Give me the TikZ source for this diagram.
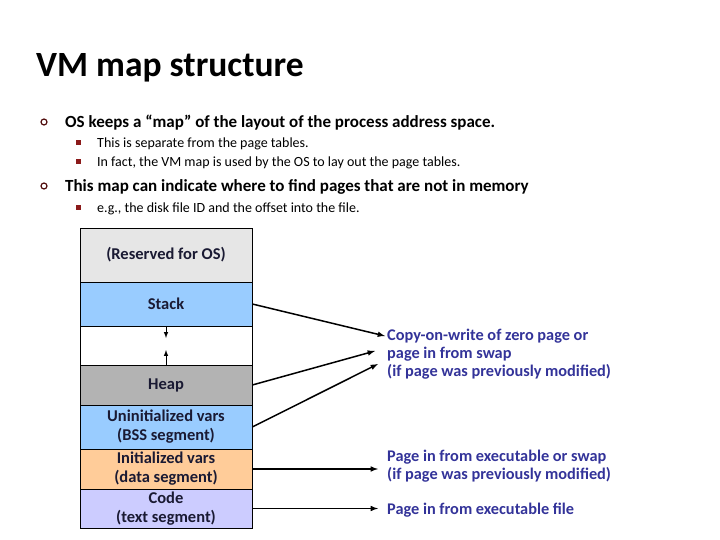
\documentclass[tikz,border=0pt]{standalone}
\usepackage{fontspec}
\setmainfont{Carlito}
\definecolor{osgray}{HTML}{E6E6E6}
\definecolor{segblue}{HTML}{99CCFF}
\definecolor{heapgray}{HTML}{B3B3B3}
\definecolor{datapeach}{HTML}{FFCC99}
\definecolor{codelilac}{HTML}{CCCCFF}
\definecolor{segtext}{HTML}{1A1A33}
\definecolor{labelblue}{HTML}{333399}
\definecolor{bulletred}{HTML}{8B1A1A}
\begin{document}
\begin{tikzpicture}[x=1pt, y=-1pt, >=latex]
    \tikzstyle{seg_style} = [draw=black, line width=0.6, minimum width=172, inner sep=0, align=center, text=segtext, font=\fontsize{16.5}{19}\selectfont\bfseries]
    \tikzstyle{label_style} = [anchor=west, align=left, inner sep=0, text=labelblue, font=\fontsize{16.3}{18}\selectfont\bfseries]
    \tikzstyle{ring_style} = [draw=bulletred!60!black, line width=1.2, circle, inner sep=0, minimum size=6]
    \tikzstyle{square_style} = [fill=bulletred, inner sep=0, minimum size=5]
    \tikzstyle{black_arrow} = [->, black, line width=1.5]
    \tikzstyle{small_arrow} = [->, black, line width=1]

    \useasboundingbox (0,0) rectangle (720,540);

    % title and bullets
    \node[anchor=base west, inner sep=0, font=\fontsize{35.5}{40}\selectfont\bfseries] (nTitle) at (36,77) {VM map structure};

    \node[ring_style] (nB1) at (44,122) {};
    \node[anchor=base west, inner sep=0, font=\fontsize{17}{20}\selectfont\bfseries] (nT1) at (65,127.5) {OS keeps a “map” of the layout of the process address space.};
    \node[square_style] (nS1) at (78.5,143) {};
    \node[anchor=base west, inner sep=0, font=\fontsize{14}{16}\selectfont] (nT2) at (97,147.5) {This is separate from the page tables.};
    \node[square_style] (nS2) at (78.5,162) {};
    \node[anchor=base west, inner sep=0, font=\fontsize{14}{16}\selectfont] (nT3) at (97,166.5) {In fact, the VM map is used by the OS to lay out the page tables.};
    \node[ring_style] (nB2) at (44,186) {};
    \node[anchor=base west, inner sep=0, font=\fontsize{17}{20}\selectfont\bfseries] (nT4) at (65,191.5) {This map can indicate where to find pages that are not in memory};
    \node[square_style] (nS3) at (78.5,208) {};
    \node[anchor=base west, inner sep=0, font=\fontsize{14}{16}\selectfont] (nT5) at (97,212.5) {e.g., the disk file ID and the offset into the file.};

    % address space
    \node[seg_style, fill=osgray, minimum height=54] (nOS) at (166,255) {(Reserved for OS)};
    \node[seg_style, fill=segblue, minimum height=44] (nStack) at (166,304) {Stack};
    \node[seg_style, fill=white, minimum height=39] (nGap) at (166,345.5) {};
    \node[seg_style, fill=heapgray, minimum height=40] (nHeap) at (166,385) {Heap};
    \node[seg_style, fill=segblue, minimum height=44] (nBSS) at (166,427) {Uninitialized vars\\(BSS segment)};
    \node[seg_style, fill=datapeach, minimum height=40] (nData) at (166,469) {Initialized vars\\(data segment)};
    \node[seg_style, fill=codelilac, minimum height=39] (nCode) at (166,508.5) {Code\\(text segment)};

    \coordinate (nGapA) at (166,338);
    \coordinate (nGapB) at (166,350);
    \draw[small_arrow] (nStack.south) -- (nGapA);
    \draw[small_arrow] (nHeap.north) -- (nGapB);

    % where pages come from
    \node[label_style] (nCow) at (387,354) {Copy-on-write of zero page or\\page in from swap\\(if page was previously modified)};
    \node[label_style] (nExec) at (387,466) {Page in from executable or swap\\(if page was previously modified)};
    \node[label_style] (nFile) at (387,510) {Page in from executable file};

    \coordinate (nCowA) at (385,336);
    \coordinate (nCowB) at (375,351);
    \coordinate (nCowC) at (378,364);

    \draw[black_arrow] (nStack.east) -- (nCowA);
    \draw[black_arrow] (nHeap.east) -- (nCowB);
    \draw[black_arrow] (nBSS.east) -- (nCowC);
    \draw[black_arrow, shorten >=9pt] (nData.east) -- (nData.east -| nExec.west);
    \draw[black_arrow, shorten >=9pt] (nCode.east) -- (nCode.east -| nFile.west);
\end{tikzpicture}
\end{document}
